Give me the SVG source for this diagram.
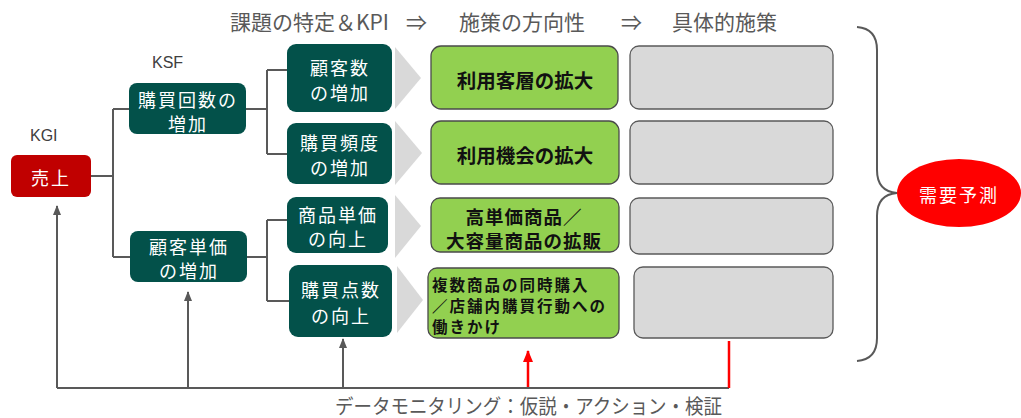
<svg xmlns="http://www.w3.org/2000/svg" width="1021" height="418" viewBox="0 0 1021 418">
<style>
  text { font-family: "Noto Sans CJK JP", "Noto Sans", sans-serif; }
  .dk { fill: #03514A; }
  .dt { fill: #ffffff; font-size: 18px; letter-spacing: 2px; text-anchor: middle; dominant-baseline: central; }
  .gr { fill: #92D050; stroke: #4a4a4a; stroke-width: 1.3; }
  .gt { fill: #111; font-size: 19.5px; font-weight: bold; text-anchor: middle; dominant-baseline: central; }
  .gt3 { fill: #111; font-size: 18.5px; font-weight: bold; text-anchor: middle; dominant-baseline: central; letter-spacing: 1px; }
  .gt4 { fill: #111; font-size: 15.5px; font-weight: bold; dominant-baseline: central; letter-spacing: 2px; }
  .gy { fill: #D9D9D9; stroke: #595959; stroke-width: 1.3; }
  .chev { fill: #D9D9D9; }
  .ln { fill: none; stroke: #595959; stroke-width: 2; }
  .rl { fill: none; stroke: #FF0000; stroke-width: 2.5; }
  .hd { fill: #595959; font-size: 21px; dominant-baseline: central; }
  .lb { fill: #404040; font-size: 16px; font-family: "Liberation Sans", Arial, sans-serif; dominant-baseline: central; }
</style>
<defs>
  <marker id="ag" viewBox="0 0 10 8" refX="9" refY="4" markerWidth="10" markerHeight="8" markerUnits="userSpaceOnUse" orient="auto">
    <path d="M0,0 L10,4 L0,8 Z" fill="#595959"/>
  </marker>
  <marker id="ar" viewBox="0 0 12 10" refX="11" refY="5" markerWidth="12" markerHeight="10" markerUnits="userSpaceOnUse" orient="auto">
    <path d="M0,0 L12,5 L0,10 Z" fill="#FF0000"/>
  </marker>
</defs>

<!-- Headings -->
<text class="hd" x="230" y="21">課題の特定＆KPI</text>
<text class="hd" x="406" y="21">⇒</text>
<text class="hd" x="459" y="21">施策の方向性</text>
<text class="hd" x="621" y="21">⇒</text>
<text class="hd" x="672" y="21">具体的施策</text>
<text class="lb" x="30" y="135">KGI</text>
<text class="lb" x="152" y="62">KSF</text>

<!-- Connectors -->
<g id="connectors">
  <path class="ln" d="M91,176 H113 M113,109 V257 M113,109 H129 M113,257 H130"/>
  <path class="ln" d="M246,109 H267 M267,70 V154 M267,70 H287 M267,154 H287"/>
  <path class="ln" d="M247,257 H267 M267,220 V301 M267,220 H287 M267,301 H289"/>
  <path class="ln" d="M57,388 H729"/>
  <path class="ln" d="M57,388 V206" marker-end="url(#ag)"/>
  <path class="ln" d="M188,388 V292" marker-end="url(#ag)"/>
  <path class="ln" d="M343,388 V339" marker-end="url(#ag)"/>
  <path class="rl" d="M528,387 V351" marker-end="url(#ar)"/>
  <path class="rl" d="M729,388 V341"/>
  <path class="ln" d="M857,27 C870,28 877,36 877,50 V170 C877,184 884,192 897,193 C884,194 877,202 877,216 V338 C877,352 870,360 857,361"/>
</g>

<!-- KGI -->
<g id="node-uriage">
  <rect x="11" y="155" width="80" height="42" rx="6" fill="#C00000"/>
  <text class="dt" x="51" y="177">売上</text>
</g>

<!-- KSF -->
<g id="node-kounyu-kaisu">
  <rect class="dk" x="129" y="83" width="117" height="51" rx="8"/>
  <text class="dt" x="188" y="99">購買回数の</text>
  <text class="dt" x="188" y="123">増加</text>
</g>
<g id="node-kokyaku-tanka">
  <rect class="dk" x="130" y="231" width="117" height="51" rx="8"/>
  <text class="dt" x="189" y="246">顧客単価</text>
  <text class="dt" x="189" y="270">の増加</text>
</g>

<!-- KPI -->
<g id="node-kokyakusu">
  <rect class="dk" x="287" y="44" width="105" height="68" rx="9"/>
  <text class="dt" x="340" y="67">顧客数</text>
  <text class="dt" x="340" y="92">の増加</text>
</g>
<g id="node-hindo">
  <rect class="dk" x="287" y="123" width="105" height="61" rx="9"/>
  <text class="dt" x="340" y="142">購買頻度</text>
  <text class="dt" x="340" y="167">の増加</text>
</g>
<g id="node-shohin-tanka">
  <rect class="dk" x="287" y="197" width="101" height="56" rx="9"/>
  <text class="dt" x="338" y="214">商品単価</text>
  <text class="dt" x="338" y="238">の向上</text>
</g>
<g id="node-tensu">
  <rect class="dk" x="289" y="265" width="103" height="72" rx="9"/>
  <text class="dt" x="341" y="289">購買点数</text>
  <text class="dt" x="341" y="315">の向上</text>
</g>

<!-- Chevrons -->
<g id="chevrons">
  <polygon class="chev" points="395,47 421,78 395,109"/>
  <polygon class="chev" points="395,121 422,153 395,185"/>
  <polygon class="chev" points="395,195 421,226 395,258"/>
  <polygon class="chev" points="397,266 423,300 397,333"/>
</g>

<!-- Directions -->
<g id="node-kyakuso">
  <rect class="gr" x="431" y="46" width="187" height="63" rx="10"/>
  <text class="gt" x="525" y="79">利用客層の拡大</text>
</g>
<g id="node-kikai">
  <rect class="gr" x="431" y="121" width="188" height="63" rx="10"/>
  <text class="gt" x="525" y="154">利用機会の拡大</text>
</g>
<g id="node-kakuhan">
  <rect class="gr" x="431" y="198" width="188" height="54" rx="9"/>
  <text class="gt3" x="524" y="216">高単価商品／</text>
  <text class="gt3" x="524" y="240">大容量商品の拡販</text>
</g>
<g id="node-doji">
  <rect class="gr" x="428" y="268" width="191" height="70" rx="9"/>
  <text class="gt4" x="432" y="284">複数商品の同時購入</text>
  <text class="gt4" x="432" y="305">／店舗内購買行動への</text>
  <text class="gt4" x="432" y="326">働きかけ</text>
</g>

<!-- Concrete measures -->
<g id="node-gusei-1"><rect class="gy" x="630" y="46" width="203" height="63" rx="9"/></g>
<g id="node-gusei-2"><rect class="gy" x="630" y="121" width="203" height="63" rx="9"/></g>
<g id="node-gusei-3"><rect class="gy" x="630" y="198" width="203" height="56" rx="9"/></g>
<g id="node-gusei-4"><rect class="gy" x="634" y="267" width="199" height="71" rx="9"/></g>

<!-- Demand forecast -->
<g id="node-juyo">
  <ellipse cx="959" cy="193" rx="62" ry="34" fill="#FF0000"/>
  <text x="959" y="194" fill="#ffffff" font-size="18" letter-spacing="2" text-anchor="middle" dominant-baseline="central">需要予測</text>
</g>

<text x="335" y="405" fill="#595959" font-size="20" textLength="387" lengthAdjust="spacingAndGlyphs" dominant-baseline="central">データモニタリング：仮説・アクション・検証</text>
</svg>
